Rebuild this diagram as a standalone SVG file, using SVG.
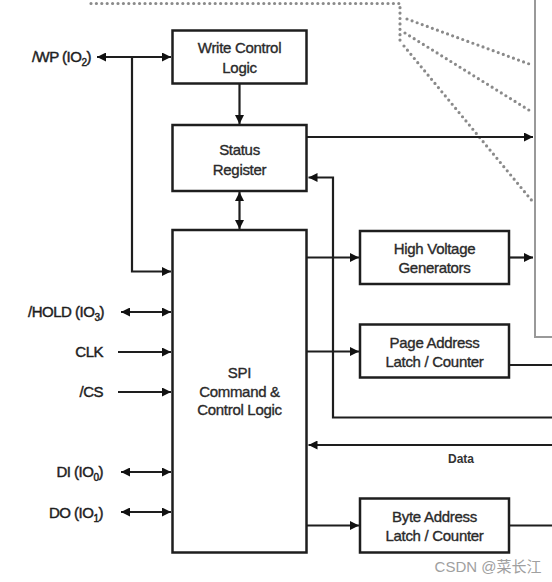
<svg xmlns="http://www.w3.org/2000/svg" width="552" height="582" viewBox="0 0 552 582">
<style>
.box{fill:#fff;stroke:#1e1e1e;stroke-width:2.5}
.t{font-family:"Liberation Sans",Arial,sans-serif;font-size:15px;fill:#2a2a2a;stroke:#2a2a2a;stroke-width:0.35;text-anchor:middle;letter-spacing:-0.3px}
.lbl{font-family:"Liberation Sans",Arial,sans-serif;font-size:15px;fill:#1e1e1e;stroke:#1e1e1e;stroke-width:0.45;text-anchor:end;letter-spacing:-0.5px}
.sub{font-size:10px}
.w{fill:none;stroke:#1e1e1e;stroke-width:2.2}
.dot{fill:none;stroke:#8a8a8a;stroke-width:3.2;stroke-linecap:round;stroke-dasharray:0 5.4}
.arr{fill:none;stroke:#999;stroke-width:2}
</style>
<defs>
<marker id="ah" viewBox="0 0 10 10" refX="10" refY="5" markerWidth="11" markerHeight="9" markerUnits="userSpaceOnUse" orient="auto-start-reverse">
<path d="M0,0 L10,5 L0,10 z" fill="#111"/>
</marker>
</defs>

<g id="memory-array">
<path class="arr" d="M535,0 V337 H552"/>
<path class="dot" d="M91,3.5 H400 V44"/>
<path class="dot" d="M407,19 L532,65"/>
<path class="dot" d="M405,33 L532,112"/>
<path class="dot" d="M404,46 L533,202"/>
</g>

<g id="connectors">
<path class="w" d="M97,57 H171" marker-start="url(#ah)" marker-end="url(#ah)"/>
<path class="w" d="M132,57 V271.5 H171" marker-end="url(#ah)"/>
<path class="w" d="M239.5,83 V124" marker-end="url(#ah)"/>
<path class="w" d="M307,137 H533" marker-end="url(#ah)"/>
<path class="w" d="M239.5,192 V229" marker-start="url(#ah)" marker-end="url(#ah)"/>
<path class="w" d="M552,417.5 H333 V177.5 H308.5" marker-end="url(#ah)"/>
<path class="w" d="M307,257.5 H359" marker-end="url(#ah)"/>
<path class="w" d="M509,257.5 H533" marker-end="url(#ah)"/>
<path class="w" d="M307,351.5 H359" marker-end="url(#ah)"/>
<path class="w" d="M509,365 H552"/>
<path class="w" d="M552,445 H308.5" marker-end="url(#ah)"/>
<path class="w" d="M307,525.5 H359" marker-end="url(#ah)"/>
<path class="w" d="M509,525.5 H552"/>
<path class="w" d="M121,312 H171" marker-start="url(#ah)" marker-end="url(#ah)"/>
<path class="w" d="M118,352 H171" marker-end="url(#ah)"/>
<path class="w" d="M118,392 H171" marker-end="url(#ah)"/>
<path class="w" d="M121,472 H171" marker-start="url(#ah)" marker-end="url(#ah)"/>
<path class="w" d="M121,512 H171" marker-start="url(#ah)" marker-end="url(#ah)"/>
</g>

<g id="write-control-logic">
<rect class="box" x="172.5" y="30.5" width="134" height="53"/>
<text class="t" x="239.5" y="53">Write Control</text>
<text class="t" x="239.5" y="73">Logic</text>
</g>

<g id="status-register">
<rect class="box" x="172.5" y="125" width="134" height="66"/>
<text class="t" x="239.5" y="155">Status</text>
<text class="t" x="239.5" y="175">Register</text>
</g>

<g id="spi-command-control-logic">
<rect class="box" x="172.5" y="230" width="134" height="322.5"/>
<text class="t" x="239.5" y="378">SPI</text>
<text class="t" x="239.5" y="397">Command &amp;</text>
<text class="t" x="239.5" y="415">Control Logic</text>
</g>

<g id="high-voltage-generators">
<rect class="box" x="360" y="231" width="149" height="53"/>
<text class="t" x="434.5" y="254">High Voltage</text>
<text class="t" x="434.5" y="273">Generators</text>
</g>

<g id="page-address-latch">
<rect class="box" x="360" y="324.5" width="149" height="53"/>
<text class="t" x="434.5" y="348">Page Address</text>
<text class="t" x="434.5" y="367">Latch / Counter</text>
</g>

<g id="byte-address-latch">
<rect class="box" x="360" y="498.5" width="149" height="54"/>
<text class="t" x="434.5" y="522">Byte Address</text>
<text class="t" x="434.5" y="541">Latch / Counter</text>
</g>

<g id="pin-labels">
<text class="lbl" x="91" y="62">/WP (IO<tspan class="sub" dy="4">2</tspan><tspan dy="-4">)</tspan></text>
<text class="lbl" x="104" y="317">/HOLD (IO<tspan class="sub" dy="4">3</tspan><tspan dy="-4">)</tspan></text>
<text class="lbl" x="103" y="357">CLK</text>
<text class="lbl" x="103" y="397">/CS</text>
<text class="lbl" x="103" y="477">DI (IO<tspan class="sub" dy="4">0</tspan><tspan dy="-4">)</tspan></text>
<text class="lbl" x="103" y="518">DO (IO<tspan class="sub" dy="4">1</tspan><tspan dy="-4">)</tspan></text>
</g>

<g id="data-label">
<text x="461" y="463" style="font-family:'Liberation Sans',Arial,sans-serif;font-size:12px;font-weight:bold;fill:#333;text-anchor:middle">Data</text>
</g>

<text x="488" y="572" style="font-family:'Liberation Sans','Noto Sans CJK SC',sans-serif;font-size:15px;fill:#a0a0a0;text-anchor:middle">CSDN @菜长江</text>
</svg>
